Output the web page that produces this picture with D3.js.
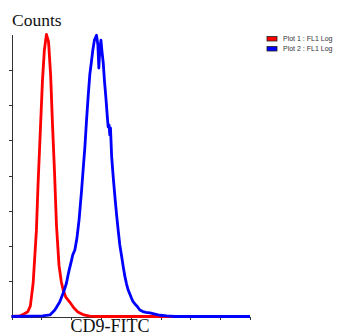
<!DOCTYPE html>
<html>
<head>
<meta charset="utf-8">
<script src="https://cdn.jsdelivr.net/npm/d3@7"></script>
<style>
  body { margin: 0; background: #fff; }
  svg { display: block; }
  .axis path, .axis line { stroke: #333; shape-rendering: crispEdges; }
  .axistitle { font-family: "Liberation Serif", "Times New Roman", serif; fill: #111; }
  .legendtext { font-family: "Liberation Sans", Arial, sans-serif; font-size: 7px; fill: #333; }
</style>
</head>
<body>
<div id="chart"></div>
<script>
// histogram data: [channel, counts]
const xTicks = [0, 128, 256, 384, 512, 640, 768, 896, 1024];
const yTicks = [20, 40, 60, 80, 100, 120, 140];
const seriesNames = ['Plot 1 : FL1 Log', 'Plot 2 : FL1 Log'];
const seriesColors = ['#ff0000', '#0000ff'];

const plot1 = [
  [0, 0], [36, 0.3], [53, 1.4], [70, 2.7], [81, 6], [93, 19], [107, 49], [114, 75],
  [124, 106], [133, 134], [141, 151], [150, 160], [159, 156], [168, 137], [176, 109],
  [185, 81], [193, 52], [204, 29], [214, 19.6], [222, 15], [233, 11], [250, 8.2],
  [268, 4.8], [285, 2.6], [311, 0.9], [336, 0.2], [379, 0], [1024, 0]
];

const plot2 = [
  [0, 0], [134, 0.3], [165, 0.9], [186, 3.7], [207, 8.2], [222, 13.3], [229, 16],
  [236, 19], [242, 23], [247, 26], [258, 32], [263, 35], [272, 37.7], [281, 44.5],
  [290, 54.7], [301, 71.7], [308, 84], [315, 96], [322, 111], [329, 124.6], [336, 137],
  [344, 145.5], [349, 151], [356, 156.8], [365, 159.6], [371, 154], [375, 141],
  [379, 151], [384, 156.8], [388, 151], [394, 143.8], [399, 134], [405, 124.6],
  [411, 114], [415, 107.6], [419, 108.6], [422, 103], [425, 107], [430, 90.7],
  [437, 78.6], [444, 68], [451, 58], [458, 49], [465, 40.6], [473, 34], [480, 28],
  [487, 22.6], [494, 18.4], [501, 15], [508, 12.8], [515, 10.5], [522, 8.4],
  [530, 7.1], [538, 6], [551, 3.7], [564, 2.8], [577, 2.3], [594, 2], [616, 1.4],
  [637, 0.7], [666, 0.3], [702, 0], [1024, 0]
];

const width = 340, height = 336;
const margin = { left: 11.5, right: 90, top: 34.5, bottom: 19.5 };

const svg = d3.select('#chart').append('svg')
  .attr('width', width)
  .attr('height', height);

const xScale = d3.scaleLinear().domain([0, 1024]).range([margin.left, width - margin.right]);
const yScale = d3.scaleLinear().domain([0, 160]).range([height - margin.bottom, margin.top]);

// axes
svg.append('g')
  .attr('class', 'axis')
  .attr('transform', `translate(0,${height - margin.bottom})`)
  .call(d3.axisBottom(xScale).tickValues(xTicks).tickSizeInner(3).tickSizeOuter(0).tickFormat(''));

svg.append('g')
  .attr('class', 'axis')
  .attr('transform', `translate(${margin.left},0)`)
  .call(d3.axisLeft(yScale).tickValues(yTicks).tickSizeInner(3).tickSizeOuter(0).tickFormat(''));

// curves
const line = d3.line()
  .x(d => xScale(d[0]))
  .y(d => yScale(d[1]))
  .curve(d3.curveLinear);

[plot1, plot2].forEach((s, i) => {
  svg.append('path')
    .datum(s)
    .attr('fill', 'none')
    .attr('stroke', seriesColors[i])
    .attr('stroke-width', 2.8)
    .attr('stroke-linejoin', 'round')
    .attr('d', line);
});

// titles
svg.append('text')
  .attr('class', 'axistitle')
  .attr('x', 12)
  .attr('y', 26)
  .style('font-size', '17.5px')
  .text('Counts');

svg.append('text')
  .attr('class', 'axistitle')
  .attr('x', 110)
  .attr('y', 332)
  .attr('text-anchor', 'middle')
  .style('font-size', '18px')
  .text('CD9-FITC');

// legend
const legend = svg.append('g').attr('transform', 'translate(267,36.5)');
seriesNames.forEach((name, i) => {
  const row = legend.append('g').attr('transform', `translate(0,${i * 10})`);
  row.append('rect')
    .attr('width', 10)
    .attr('height', 4.5)
    .attr('fill', seriesColors[i])
    .attr('stroke', '#222')
    .attr('stroke-width', 0.8);
  row.append('text')
    .attr('class', 'legendtext')
    .attr('x', 16)
    .attr('y', 4.8)
    .text(name);
});
</script>
</body>
</html>
